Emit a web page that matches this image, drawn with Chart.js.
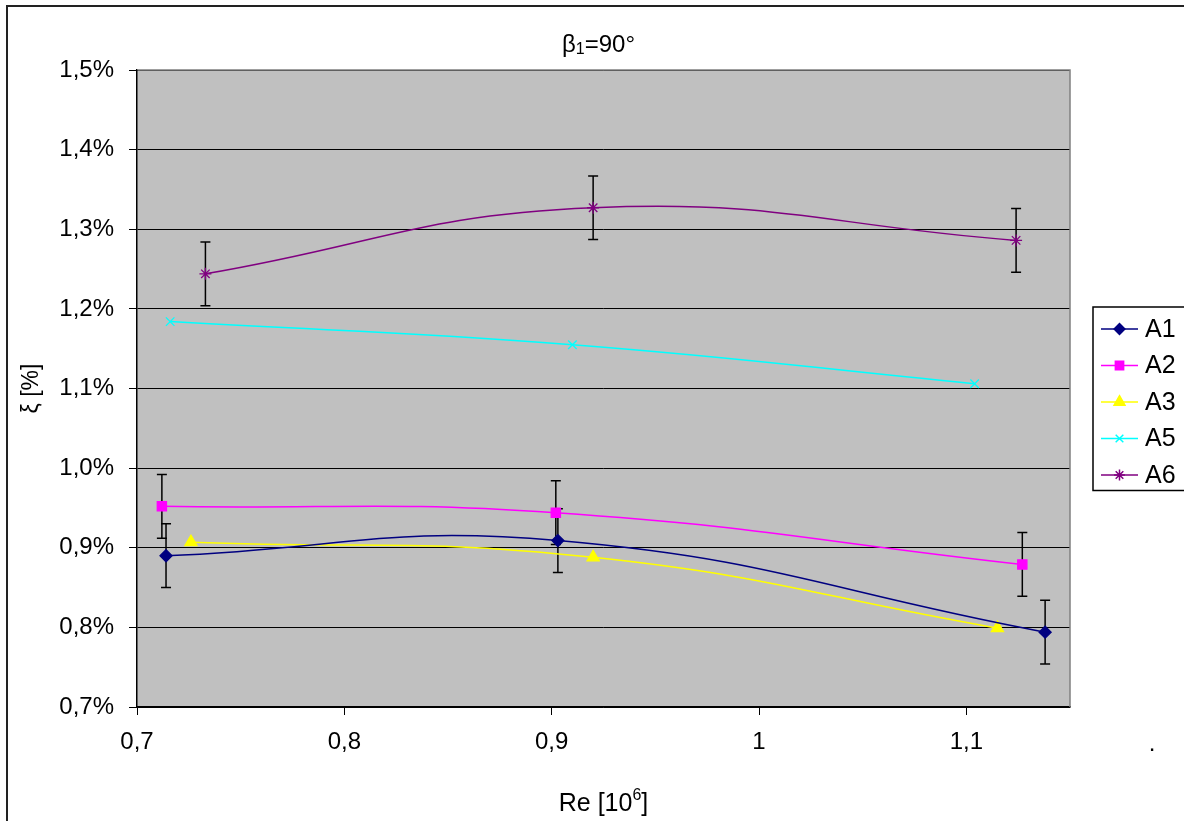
<!DOCTYPE html>
<html>
<head>
<meta charset="utf-8">
<script src="https://cdn.jsdelivr.net/npm/chart.js@4.4.0/dist/chart.umd.min.js"></script>
<style>
  html, body { margin: 0; padding: 0; background: #fff; }
  #wrap { position: relative; width: 1184px; height: 821px; overflow: hidden; }
  #frame { position: absolute; left: 6px; top: 5px; width: 1400px; height: 1100px;
           border-left: 2px solid #222; border-top: 2px solid #222; }
  #chart { position: absolute; left: 0; top: 0; }
</style>
</head>
<body>
<div id="wrap">
  <div id="frame"></div>
  <canvas id="chart" width="1184" height="821"></canvas>
</div>
<script>
// series values (Re in 10^6, xi in %)
const seriesNames = ["A1", "A2", "A3", "A5", "A6"];
const reA1 = [0.714, 0.903, 1.138];
const xiA1 = [0.890, 0.909, 0.794];
const errA1 = [0.04, 0.04, 0.04];
const reA2 = [0.712, 0.902, 1.127];
const xiA2 = [0.952, 0.944, 0.879];
const errA2 = [0.04, 0.04, 0.04];
const reA3 = [0.726, 0.920, 1.115];
const xiA3 = [0.907, 0.888, 0.799];
const reA5 = [0.716, 0.910, 1.104];
const xiA5 = [1.184, 1.155, 1.106];
const reA6 = [0.733, 0.920, 1.124];
const xiA6 = [1.244, 1.327, 1.286];
const errA6 = [0.04, 0.04, 0.04];

// axis ticks
const xTicks = [0.7, 0.8, 0.9, 1.0, 1.1];
const xTickLabels = ["0,7", "0,8", "0,9", "1", "1,1"];
const yTicks = [0.7, 0.8, 0.9, 1.0, 1.1, 1.2, 1.3, 1.4, 1.5];
const yTickLabels = ["0,7%", "0,8%", "0,9%", "1,0%", "1,1%", "1,2%", "1,3%", "1,4%", "1,5%"];

const seriesColors = ["#000080", "#FF00FF", "#FFFF00", "#00FFFF", "#800080"];
const seriesMarkers = ["rectRot", "rect", "triangle", "crossRot", "star"];
const markerRadius = [6, 6.5, 7, 6, 6];

const FONT = "'Liberation Sans', Arial, sans-serif";
Chart.defaults.font.family = FONT;
Chart.defaults.color = "#000";

function makeSet(i, re, xi, err) {
  return {
    label: seriesNames[i],
    data: re.map((x, k) => ({ x: x, y: xi[k] })),
    errors: err || null,
    showLine: true,
    tension: 0.45,
    borderColor: seriesColors[i],
    borderWidth: 1.5,
    pointStyle: seriesMarkers[i],
    pointRadius: markerRadius[i],
    pointHoverRadius: markerRadius[i],
    pointBackgroundColor: seriesColors[i],
    pointBorderColor: seriesColors[i],
    pointBorderWidth: 1.3,
  };
}

// grey plot area and its grey top/right frame
const plotArea = {
  id: "plotArea",
  beforeDraw(chart) {
    const { ctx, chartArea: a } = chart;
    ctx.save();
    ctx.fillStyle = "#C0C0C0";
    ctx.fillRect(a.left, a.top, a.right - a.left, a.bottom - a.top);
    ctx.restore();
  },
  beforeDatasetsDraw(chart) {
    const { ctx, chartArea: a } = chart;
    ctx.save();
    ctx.strokeStyle = "#808080";
    ctx.lineWidth = 1.5;
    ctx.beginPath();
    ctx.moveTo(a.left + 1, a.top);
    ctx.lineTo(a.right, a.top);
    ctx.lineTo(a.right, a.bottom);
    ctx.stroke();
    ctx.restore();
  },
};

// vertical error bars, drawn below the markers
const errorBars = {
  id: "errorBars",
  beforeDatasetsDraw(chart) {
    const { ctx, scales: { x, y } } = chart;
    ctx.save();
    ctx.strokeStyle = "#000";
    ctx.lineWidth = 1.5;
    chart.data.datasets.forEach((ds) => {
      if (!ds.errors) return;
      ds.data.forEach((p, k) => {
        const px = x.getPixelForValue(p.x);
        const top = y.getPixelForValue(p.y + ds.errors[k]);
        const bot = y.getPixelForValue(p.y - ds.errors[k]);
        ctx.beginPath();
        ctx.moveTo(px, top); ctx.lineTo(px, bot);
        ctx.moveTo(px - 5, top); ctx.lineTo(px + 5, top);
        ctx.moveTo(px - 5, bot); ctx.lineTo(px + 5, bot);
        ctx.stroke();
      });
    });
    ctx.restore();
  },
};

// titles with sub/superscripts, the boxed legend
const texts = {
  id: "texts",
  afterDraw(chart) {
    const { ctx, chartArea: a } = chart;
    const cx = (a.left + a.right) / 2;
    ctx.save();
    ctx.fillStyle = "#000";
    ctx.textBaseline = "alphabetic";

    // chart title: beta_1=90°
    const t1 = "\u03B2", t3 = "=90\u00B0";
    ctx.font = "24px " + FONT;
    const w1 = ctx.measureText(t1).width;
    const w3 = ctx.measureText(t3).width;
    ctx.font = "16px " + FONT;
    const w2 = ctx.measureText("1").width;
    let tx = cx - 5 - (w1 + w2 + w3) / 2;
    const ty = 52;
    ctx.font = "24px " + FONT;
    ctx.fillText(t1, tx, ty);
    ctx.font = "16px " + FONT;
    ctx.fillText("1", tx + w1, ty + 2);
    ctx.font = "24px " + FONT;
    ctx.fillText(t3, tx + w1 + w2, ty);

    // x axis title: Re [10^6]
    const xa = "Re [10", xb = "]";
    ctx.font = "25px " + FONT;
    const wa = ctx.measureText(xa).width;
    const wb = ctx.measureText(xb).width;
    ctx.font = "16px " + FONT;
    const ws = ctx.measureText("6").width;
    let xx = cx - (wa + ws + wb) / 2;
    const xy = 811;
    ctx.font = "25px " + FONT;
    ctx.fillText(xa, xx, xy);
    ctx.font = "16px " + FONT;
    ctx.fillText("6", xx + wa, xy - 11);
    ctx.font = "25px " + FONT;
    ctx.fillText(xb, xx + wa + ws, xy);

    // y axis title
    ctx.save();
    ctx.translate(32, (a.top + a.bottom) / 2);
    ctx.rotate(-Math.PI / 2);
    ctx.font = "23px " + FONT;
    ctx.textAlign = "center";
    ctx.textBaseline = "middle";
    ctx.fillText("\u03BE [%]", 0, 0);
    ctx.restore();

    // stray dot right of the last x label
    ctx.font = "24px " + FONT;
    ctx.textAlign = "center";
    ctx.textBaseline = "middle";
    ctx.fillText(".", a.right + 82, 744);

    // legend
    const lx = a.right + 23;
    const ly = 307;
    const rowH = 36.5;
    ctx.strokeStyle = "#000";
    ctx.lineWidth = 1.5;
    ctx.strokeRect(lx, ly, 200, rowH * seriesNames.length + 1);
    ctx.textAlign = "left";
    ctx.textBaseline = "middle";
    chart.data.datasets.forEach((ds, i) => {
      const ry = ly + 22 + i * rowH;
      ctx.strokeStyle = ds.borderColor;
      ctx.fillStyle = ds.borderColor;
      ctx.lineWidth = 1.5;
      ctx.beginPath();
      ctx.moveTo(lx + 8, ry);
      ctx.lineTo(lx + 45, ry);
      ctx.stroke();
      Chart.helpers.drawPoint(ctx, {
        pointStyle: ds.pointStyle,
        radius: ds.pointRadius * 0.9,
        rotation: 0,
        borderWidth: 1.3,
      }, lx + 26.5, ry);
      ctx.fillStyle = "#000";
      ctx.font = "25px " + FONT;
      ctx.fillText(ds.label, lx + 52, ry + 1);
    });
    ctx.restore();
  },
};

new Chart(document.getElementById("chart"), {
  type: "scatter",
  data: {
    datasets: [
      makeSet(0, reA1, xiA1, errA1),
      makeSet(1, reA2, xiA2, errA2),
      makeSet(2, reA3, xiA3, null),
      makeSet(3, reA5, xiA5, null),
      makeSet(4, reA6, xiA6, errA6),
    ],
  },
  options: {
    responsive: false,
    animation: false,
    layout: { padding: { top: 70, right: 114, left: 0, bottom: 0 } },
    plugins: {
      legend: { display: false },
      title: { display: false },
      tooltip: { enabled: false },
    },
    scales: {
      x: {
        type: "linear",
        min: 0.7,
        max: 1.15,
        afterBuildTicks: (s) => { s.ticks = xTicks.map((v) => ({ value: v })); },
        afterFit: (s) => { s.height = 114; },
        grid: { drawOnChartArea: false, drawTicks: true, tickLength: 8, color: "#000", lineWidth: 1 },
        border: { color: "#000", width: 1.5 },
        ticks: {
          padding: 13,
          font: { size: 24 },
          color: "#000",
          maxRotation: 0,
          autoSkip: false,
          callback: (v) => xTickLabels[xTicks.findIndex((t) => Math.abs(t - v) < 1e-6)],
        },
      },
      y: {
        type: "linear",
        min: 0.7,
        max: 1.5,
        afterBuildTicks: (s) => { s.ticks = yTicks.map((v) => ({ value: v })); },
        afterFit: (s) => { s.width = 137; },
        grid: { drawOnChartArea: true, drawTicks: true, tickLength: 8, color: "#000", lineWidth: 1 },
        border: { color: "#000", width: 1.5 },
        ticks: {
          padding: 15,
          font: { size: 24 },
          color: "#000",
          autoSkip: false,
          callback: (v) => yTickLabels[yTicks.findIndex((t) => Math.abs(t - v) < 1e-6)],
        },
      },
    },
  },
  plugins: [plotArea, errorBars, texts],
});
</script>
</body>
</html>
